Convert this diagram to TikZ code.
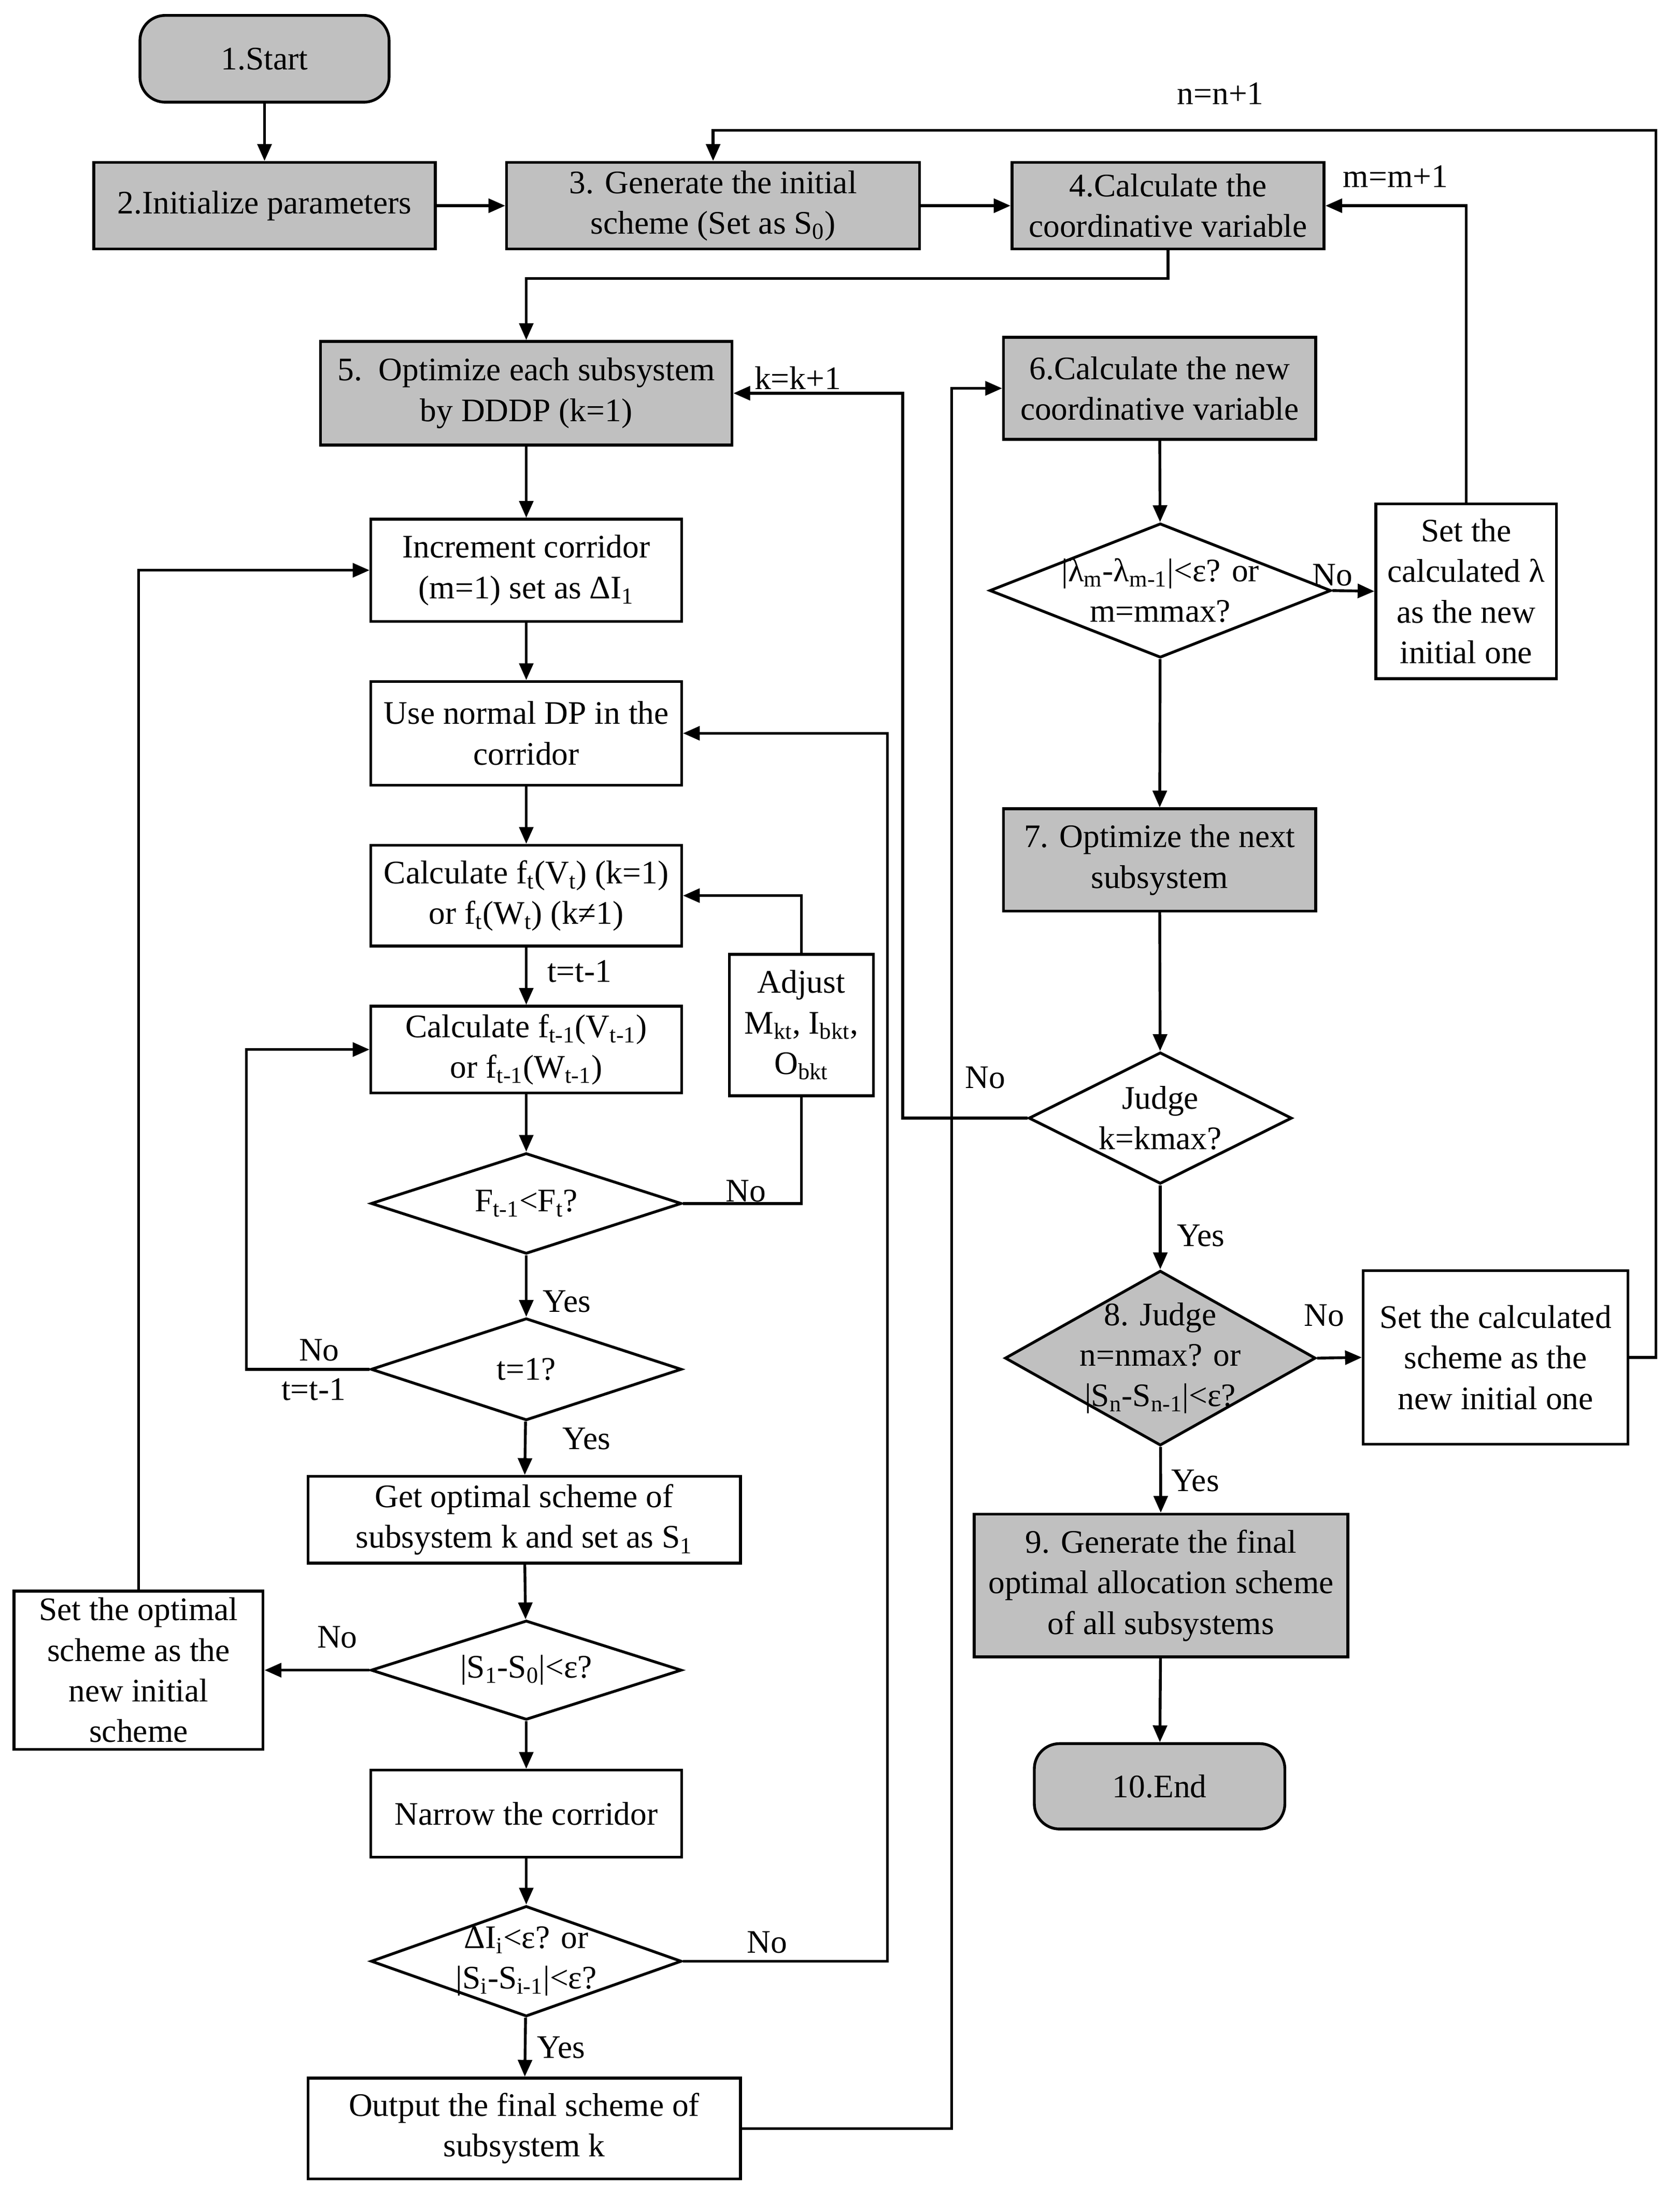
\documentclass[tikz,border=0pt]{standalone}
\usepackage{fontspec}
\setmainfont{Liberation Serif}
\usepackage{tikz}
\usetikzlibrary{positioning}
\usetikzlibrary{shapes.geometric}
\usetikzlibrary{arrows.meta}
\definecolor{boxgray}{RGB}{192,192,192}

\begin{document}
\begin{tikzpicture}[x=1pt, y=-1pt, line width=2pt,
		every node/.style={font=\fontsize{23.5}{29}\selectfont, align=center, inner sep=0pt},
		graybox/.style={draw, fill=boxgray, rectangle},
		whitebox/.style={draw, rectangle},
		terminal/.style={draw, fill=boxgray, rectangle, rounded corners=18pt},
		decision/.style={draw, diamond},
		graydecision/.style={draw, diamond, fill=boxgray},
		flow/.style={-{Triangle[length=12pt, width=10pt]}}]
		\useasboundingbox (0,0) rectangle (1200,1575);

		% left column
		\node[terminal, minimum width=178pt, minimum height=62pt] (start) at (189,42) {1.Start};
		\node[graybox, minimum width=244pt, minimum height=62pt] (init) at (189,147) {2.Initialize parameters};
		\node[graybox, minimum width=295pt, minimum height=62pt] (gen) at (509.5,147) {3. Generate the initial\\scheme (Set as S\textsubscript{0})};
		\node[graybox, minimum width=223pt, minimum height=62pt] (coord) at (834.5,147) {4.Calculate the\\coordinative variable};
		\node[graybox, minimum width=294pt, minimum height=74pt] (opt) at (376,281) {5.\ \ Optimize each subsystem\\by DDDP (k=1)};
		\node[whitebox, minimum width=222pt, minimum height=73pt] (incr) at (376,407.5) {Increment corridor\\(m=1) set as ΔI\textsubscript{1}};
		\node[whitebox, minimum width=222pt, minimum height=74pt] (dp) at (376,524) {Use normal DP in the\\corridor};
		\node[whitebox, minimum width=222pt, minimum height=72pt] (ft) at (376,640) {Calculate f\textsubscript{t}(V\textsubscript{t}) (k=1)\\or f\textsubscript{t}(W\textsubscript{t}) (k≠1)};
		\node[whitebox, minimum width=222pt, minimum height=62pt] (ftm) at (376,750) {Calculate f\textsubscript{t-1}(V\textsubscript{t-1})\\or f\textsubscript{t-1}(W\textsubscript{t-1})};
		\node[whitebox, minimum width=103pt, minimum height=101pt] (adj) at (572.5,732.5) {Adjust\\M\textsubscript{kt}, I\textsubscript{bkt},\\O\textsubscript{bkt}};
		\node[decision, minimum width=222pt, minimum height=72pt] (cmp) at (376,860) {};
		\node (cmptext) at (cmp) {F\textsubscript{t-1}<F\textsubscript{t}?};
		\node[decision, minimum width=222pt, minimum height=73pt] (tone) at (376,978.5) {};
		\node (tonetext) at (tone) {t=1?};
		\node[whitebox, minimum width=309pt, minimum height=62pt] (getopt) at (374.5,1086) {Get optimal scheme of\\subsystem k and set as S\textsubscript{1}};
		\node[decision, minimum width=222pt, minimum height=71pt] (sdiff) at (376,1193.5) {};
		\node (sdifftext) at (sdiff) {|S\textsubscript{1}-S\textsubscript{0}|<ε?};
		\node[whitebox, minimum width=178pt, minimum height=113pt] (setopt) at (99,1193.5) {Set the optimal\\scheme as the\\new initial\\scheme};
		\node[whitebox, minimum width=222pt, minimum height=62pt] (narrow) at (376,1296) {Narrow the corridor};
		\node[decision, minimum width=222pt, minimum height=79pt] (conv) at (376,1401.5) {};
		\node (convtext) at (conv) {ΔI\textsubscript{i}<ε? or\\|S\textsubscript{i}-S\textsubscript{i-1}|<ε?};
		\node[whitebox, minimum width=309pt, minimum height=72pt] (out) at (374.5,1521) {Output the final scheme of\\subsystem k};

		% right column
		\node[graybox, minimum width=223pt, minimum height=73pt] (newcoord) at (828.5,277.5) {6.Calculate the new\\coordinative variable};
		\node[decision, minimum width=244pt, minimum height=96pt] (lam) at (829,422) {};
		\node (lamtext) at (lam) {|λ\textsubscript{m}-λ\textsubscript{m-1}|<ε? or\\m=mmax?};
		\node[whitebox, minimum width=129pt, minimum height=125pt] (setlam) at (1047.5,422.5) {Set the\\calculated λ\\as the new\\initial one};
		\node[graybox, minimum width=223pt, minimum height=73pt] (next) at (828.5,614.5) {7. Optimize the next\\subsystem};
		\node[decision, minimum width=188pt, minimum height=94pt] (judge) at (829,799) {};
		\node (judgetext) at (judge) {Judge\\k=kmax?};
		\node[graydecision, minimum width=222pt, minimum height=125pt] (nmax) at (829,970.5) {};
		\node (nmaxtext) at (nmax) {8. Judge\\n=nmax? or\\|S\textsubscript{n}-S\textsubscript{n-1}|<ε?};
		\node[whitebox, minimum width=189pt, minimum height=124pt] (setsch) at (1068.5,970) {Set the calculated\\scheme as the\\new initial one};
		\node[graybox, minimum width=267pt, minimum height=102pt] (final) at (829.5,1133) {9. Generate the final\\optimal allocation scheme\\of all subsystems};
		\node[terminal, minimum width=179pt, minimum height=61pt] (end) at (828.5,1276.5) {10.End};

		% bends of the loops
		\coordinate (nloop) at (1183,93);
		\coordinate (kloop) at (645,799);
		\coordinate (outloop) at (680,1521);
		\coordinate (tloop) at (176,978.5);
		\coordinate (convloop) at (634,1401.5);

		% main flow
		\draw[flow] (start) -- (init);
		\draw[flow] (init) -- (gen);
		\draw[flow] (gen) -- (coord);
		\draw[flow] (coord.south) -- ++(0,20) -| (opt.north);
		\draw[flow] (opt) -- (incr);
		\draw[flow] (incr) -- (dp);
		\draw[flow] (dp) -- (ft);
		\draw[flow] (ft) -- (ftm);
		\draw[flow] (ftm) -- (cmp);
		\draw[flow] (cmp) -- (tone);
		\draw[flow] (tone) -- (getopt);
		\draw[flow] (getopt) -- (sdiff);
		\draw[flow] (sdiff) -- (narrow);
		\draw[flow] (narrow) -- (conv);
		\draw[flow] (conv) -- (out);
		\draw[flow] (newcoord) -- (lam);
		\draw[flow] (lam) -- (next);
		\draw[flow] (next) -- (judge);
		\draw[flow] (judge) -- (nmax);
		\draw[flow] (nmax) -- (final);
		\draw[flow] (final) -- (end);

		% loops
		\draw (cmp.east) -| (adj.south);
		\draw[flow] (adj.north) |- (ft.east);
		\draw[flow] (tone.west) -- (tloop) |- (ftm.west);
		\draw[flow] (sdiff.west) -- (setopt.east);
		\draw[flow] (setopt.north) |- (incr.west);
		\draw[flow] (conv.east) -- (convloop) |- (dp.east);
		\draw[flow] (out.east) -- (outloop) |- (newcoord.west);
		\draw[flow] (lam.east) -- (setlam.west);
		\draw[flow] (setlam.north) |- (coord.east);
		\draw[flow] (judge.west) -- (kloop) |- (opt.east);
		\draw[flow] (nmax.east) -- (setsch.west);
		\draw[flow] (setsch.east) -| (nloop) -| (gen.north);

		% labels
		\node (lbln) at (872,67) {n=n+1};
		\node (lblm) at (997,126) {m=m+1};
		\node (lblk) at (570,270) {k=k+1};
		\node (lbltt) at (414,694) {t=t-1};
		\node (lblcmpno) at (533,851) {No};
		\node (lblcmpyes) at (405,930) {Yes};
		\node (lbltoneno) at (228,965) {No};
		\node (lbltonett) at (224,993) {t=t-1};
		\node (lbltoneyes) at (419,1028) {Yes};
		\node (lblsdiffno) at (241,1170) {No};
		\node (lblconvno) at (548,1388) {No};
		\node (lblconvyes) at (401,1463) {Yes};
		\node (lbllamno) at (952,411) {No};
		\node (lbljudgeno) at (704,770) {No};
		\node (lbljudgeyes) at (858,883) {Yes};
		\node (lblnmaxno) at (946,940) {No};
		\node (lblnmaxyes) at (854,1058) {Yes};
\end{tikzpicture}
\end{document}
